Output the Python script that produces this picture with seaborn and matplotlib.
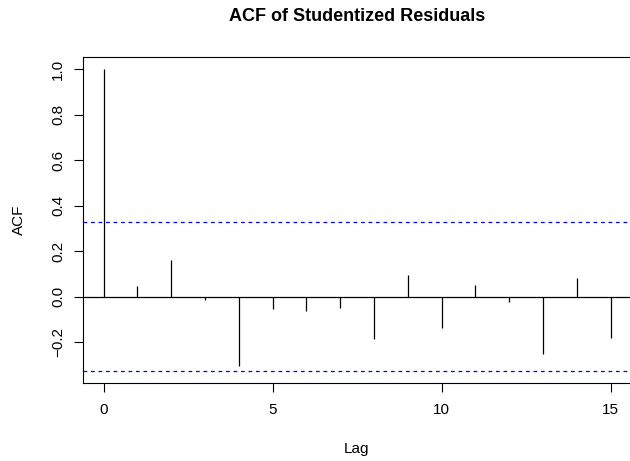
import numpy as np
import pandas as pd
import matplotlib
matplotlib.use("Agg")
import matplotlib.pyplot as plt
import seaborn as sns

# acf values
lags = list(range(16))
acf_vals = [1.0, 0.047, 0.161, -0.015, -0.307, -0.053, -0.064, -0.050,
            -0.187, 0.094, -0.137, 0.050, -0.025, -0.251, 0.082, -0.181]
ci_bound = 0.327
xticks = [0, 5, 10, 15]
yticks = [-0.2, 0.0, 0.2, 0.4, 0.6, 0.8, 1.0]

df = pd.DataFrame({"lag": lags, "acf": acf_vals})

sns.set_style("white")
plt.rcParams["font.family"] = ["Liberation Sans", "DejaVu Sans"]
plt.rcParams["text.color"] = "black"
plt.rcParams["axes.labelcolor"] = "black"
plt.rcParams["xtick.color"] = "black"
plt.rcParams["ytick.color"] = "black"

fig = plt.figure(figsize=(6.3, 4.61), dpi=100)
ax = fig.add_axes([0.1322, 0.1685, 1 - 0.1322, 0.8757 - 0.1685])

# spikes
ax.vlines(df["lag"], 0, df["acf"], color="black", lw=0.9)
ax.axhline(0, color="black", lw=0.9)
# confidence bounds
ax.axhline(ci_bound, color="blue", lw=0.9, ls=(0, (3, 3)))
ax.axhline(-ci_bound, color="blue", lw=0.9, ls=(0, (3, 3)))

ax.set_xlim(-0.6, 15.57)
ax.set_ylim(-0.381, 1.053)
ax.set_xticks(xticks)
ax.set_yticks(yticks)
ax.set_yticklabels([f"{v:.1f}".replace("-", "\u2212") for v in yticks],
                   rotation=90, va="center")
ax.tick_params(axis="both", direction="out", length=6.7, width=0.8,
               labelsize=11, color="black", labelcolor="black",
               bottom=True, left=True)
ax.tick_params(axis="x", pad=7.5)
ax.tick_params(axis="y", pad=6.5)
for s in ["top", "left", "bottom"]:
    ax.spines[s].set_color("black")
    ax.spines[s].set_linewidth(0.8)
ax.spines["right"].set_visible(False)

ax.set_xlabel("Lag", fontsize=11, va="baseline")
ax.xaxis.set_label_coords(0.5006, -0.2147)
ax.set_ylabel("ACF", fontsize=11, va="baseline")
ax.yaxis.set_label_coords(-0.1097, 0.5)
fig.text(357 / 630, 1 - 21 / 461, "ACF of Studentized Residuals",
         fontsize=13, fontweight="bold", ha="center", va="baseline")

fig.savefig("out.png", dpi=100)
